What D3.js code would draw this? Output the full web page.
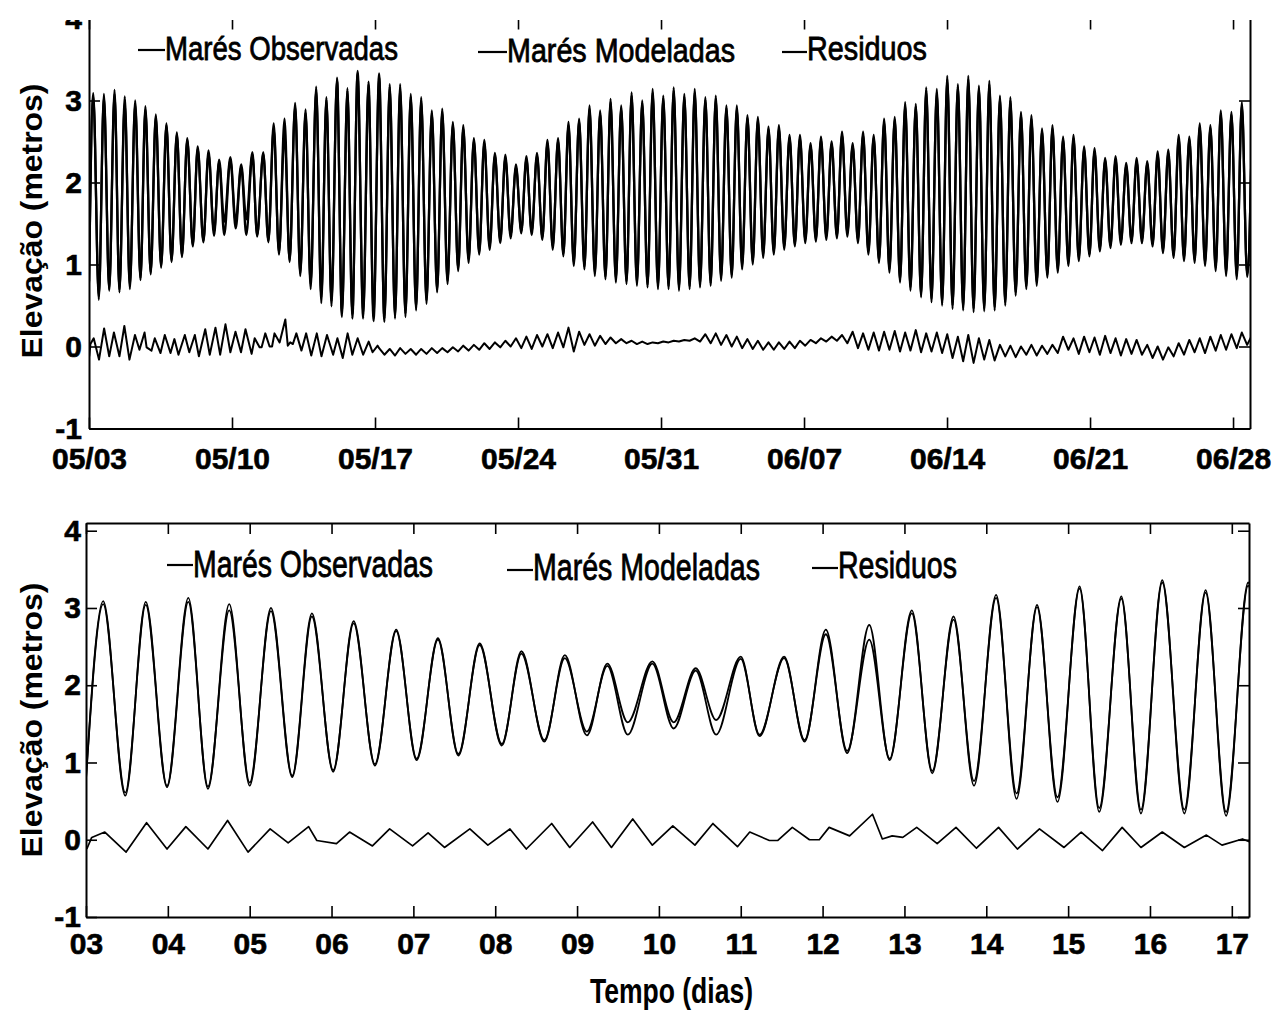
<!DOCTYPE html>
<html>
<head>
<meta charset="utf-8">
<script src="https://cdn.jsdelivr.net/npm/d3@7"></script>
<style>
  body { margin: 0; background: #fff; }
  svg { display: block; }
  text { font-family: "Liberation Sans", Arial, sans-serif; fill: #000; }
</style>
</head>
<body>
<svg id="chart" width="1274" height="1011"></svg>
<script>
// times of high / low water (days of May, 32 = 1 June)
const tideDays = [
  3.00, 3.21, 3.48, 3.73, 3.99, 4.25, 4.49, 4.75, 5.00, 5.26, 5.52, 5.76, 6.02, 6.27, 6.53, 6.79, 7.04,
  7.30, 7.55, 7.81, 8.08, 8.32, 8.60, 8.85, 9.12, 9.37, 9.62, 9.92, 10.18, 10.45, 10.70, 11.00, 11.23,
  11.53, 11.78, 12.04, 12.30, 12.57, 12.82, 13.09, 13.34, 13.60, 13.85, 14.12, 14.37, 14.62, 14.87,
  15.14, 15.38, 15.65, 15.89, 16.15, 16.42, 16.68, 16.93,
  17.20, 17.46, 17.72, 17.98, 18.23, 18.49, 18.75, 19.01, 19.26, 19.52, 19.78, 20.04, 20.29, 20.55, 20.81, 21.07, 21.32, 21.58, 21.84, 22.10,
  22.35, 22.61, 22.87, 23.13, 23.38, 23.64, 23.90, 24.16, 24.41, 24.67, 24.93, 25.19, 25.44, 25.70, 25.96, 26.22, 26.47, 26.73, 26.99, 27.25,
  27.50, 27.76, 28.02, 28.28, 28.53, 28.79, 29.05, 29.31, 29.56, 29.82, 30.08, 30.34, 30.59, 30.85, 31.11, 31.37, 31.62, 31.88, 32.14, 32.40,
  32.65, 32.91, 33.17, 33.43, 33.68, 33.94, 34.20, 34.46, 34.71, 34.97, 35.23, 35.49, 35.74, 36.00, 36.26, 36.52, 36.77, 37.03, 37.29, 37.55,
  37.80, 38.06, 38.32, 38.58, 38.83, 39.09, 39.35, 39.61, 39.86, 40.12, 40.38, 40.64, 40.89, 41.15, 41.41, 41.67, 41.92, 42.18, 42.44, 42.70,
  42.95, 43.21, 43.47, 43.73, 43.98, 44.24, 44.50, 44.76, 45.01, 45.27, 45.53, 45.79, 46.04, 46.30, 46.56, 46.82, 47.07, 47.33, 47.59, 47.85,
  48.10, 48.36, 48.62, 48.88, 49.13, 49.39, 49.65, 49.91, 50.16, 50.42, 50.68, 50.94, 51.19, 51.45, 51.71, 51.97, 52.22, 52.48, 52.74, 53.00,
  53.25, 53.51, 53.77, 54.03, 54.28, 54.54, 54.80, 55.06, 55.31, 55.57, 55.83, 56.09, 56.34, 56.60, 56.86, 57.12, 57.37, 57.63, 57.89, 58.15,
  58.40, 58.66, 58.92, 59.18, 59.43, 59.69, 59.95
];

// observed tide (m)
const obsLevels = [
  0.80, 3.09, 0.57, 3.08, 0.70, 3.13, 0.66, 3.05, 0.70, 3.00, 0.83, 2.93, 0.88, 2.83, 0.96, 2.72, 1.03,
  2.61, 1.09, 2.54, 1.22, 2.44, 1.27, 2.39, 1.35, 2.28, 1.52, 2.31, 1.52, 2.22, 1.55, 2.37, 1.34,
  2.37, 1.27, 2.72, 1.12, 2.78, 1.03, 2.97, 0.86, 2.89, 0.70, 3.17, 0.53, 3.04, 0.49,
  3.28, 0.36, 3.15, 0.34, 3.36, 0.34, 3.23, 0.31,
  3.33, 0.30, 3.20, 0.34, 3.20, 0.36, 3.08, 0.44, 3.04, 0.52, 2.88, 0.66, 2.90, 0.76, 2.74, 0.92, 2.70, 1.02, 2.54, 1.12,
  2.52, 1.18, 2.36, 1.26, 2.34, 1.32, 2.22, 1.38, 2.32, 1.36, 2.36, 1.30, 2.52, 1.18, 2.54, 1.10, 2.74, 0.98, 2.78, 0.94,
  2.94, 0.86, 2.88, 0.82, 3.02, 0.78, 2.94, 0.76, 3.10, 0.74, 3.00, 0.72, 3.14, 0.70, 3.06, 0.70, 3.16, 0.68, 3.08, 0.70,
  3.14, 0.72, 3.04, 0.74, 3.06, 0.80, 2.94, 0.84, 2.94, 0.94, 2.82, 1.00, 2.80, 1.08, 2.68, 1.12, 2.70, 1.18, 2.58, 1.22,
  2.58, 1.26, 2.48, 1.28, 2.56, 1.30, 2.50, 1.32, 2.62, 1.34, 2.48, 1.26, 2.62, 1.12, 2.58, 1.02, 2.78, 0.90, 2.80, 0.78,
  2.98, 0.68, 2.96, 0.60, 3.16, 0.54, 3.14, 0.50, 3.30, 0.46, 3.20, 0.44, 3.30, 0.42, 3.18, 0.43, 3.24, 0.44, 3.06, 0.50,
  3.04, 0.62, 2.86, 0.70, 2.82, 0.74, 2.66, 0.84, 2.70, 0.90, 2.56, 0.98, 2.58, 1.04, 2.44, 1.10, 2.42, 1.16, 2.30, 1.20,
  2.32, 1.24, 2.24, 1.26, 2.30, 1.26, 2.26, 1.22, 2.38, 1.14, 2.40, 1.08, 2.58, 1.04, 2.56, 1.02, 2.72, 0.98, 2.70, 0.92,
  2.88, 0.86, 2.86, 0.82, 2.98, 0.85, 2.95
];

// modelled tide (m)
const modLevels = [
  0.78, 3.05, 0.61, 3.04, 0.68, 3.08, 0.69, 2.97, 0.74, 2.96, 0.81, 2.89, 0.90, 2.80, 0.98, 2.70, 1.05,
  2.59, 1.11, 2.52, 1.24, 2.41, 1.29, 2.35, 1.40, 2.25, 1.36, 2.28, 1.44, 2.19, 1.36, 2.34, 1.36,
  2.35, 1.29, 2.66, 1.15, 2.59, 1.05, 2.93, 0.89, 2.85, 0.76, 3.13, 0.60, 3.01, 0.55,
  3.25, 0.41, 3.12, 0.39, 3.33, 0.39, 3.20, 0.36,
  3.29, 0.34, 3.17, 0.37, 3.15, 0.40, 3.05, 0.47, 3.00, 0.56, 2.85, 0.69, 2.86, 0.80, 2.71, 0.95, 2.66, 1.06, 2.51, 1.15,
  2.48, 1.22, 2.33, 1.29, 2.30, 1.36, 2.19, 1.41, 2.28, 1.40, 2.33, 1.33, 2.48, 1.22, 2.51, 1.13, 2.70, 1.02, 2.75, 0.97,
  2.90, 0.90, 2.85, 0.85, 2.98, 0.82, 2.91, 0.79, 3.06, 0.78, 2.97, 0.75, 3.10, 0.74, 3.03, 0.73, 3.12, 0.72, 3.05, 0.73,
  3.10, 0.76, 3.01, 0.77, 3.02, 0.84, 2.91, 0.87, 2.90, 0.98, 2.79, 1.03, 2.76, 1.12, 2.65, 1.15, 2.66, 1.22, 2.55, 1.25,
  2.54, 1.30, 2.45, 1.31, 2.52, 1.34, 2.47, 1.35, 2.58, 1.38, 2.45, 1.30, 2.58, 1.16, 2.55, 1.05, 2.74, 0.94, 2.77, 0.81,
  2.94, 0.72, 2.93, 0.63, 3.12, 0.58, 3.10, 0.53, 3.26, 0.50, 3.17, 0.47, 3.26, 0.46, 3.15, 0.46, 3.20, 0.48, 3.03, 0.54,
  3.00, 0.66, 2.83, 0.73, 2.78, 0.78, 2.63, 0.87, 2.66, 0.94, 2.53, 1.01, 2.54, 1.08, 2.41, 1.13, 2.38, 1.20, 2.27, 1.23,
  2.28, 1.28, 2.21, 1.29, 2.26, 1.30, 2.23, 1.25, 2.34, 1.18, 2.36, 1.11, 2.54, 1.08, 2.53, 1.05, 2.68, 1.02, 2.67, 0.96,
  2.84, 0.90, 2.83, 0.86, 2.94, 0.88, 2.92
];

// residuals, detailed part (3 - 17 May)
const resDays = [
  3.01, 3.07, 3.23, 3.49, 3.74, 3.99, 4.22, 4.49, 4.73, 4.98, 5.25, 5.47, 5.72, 5.82, 6.06, 6.22,
  6.50, 6.71, 6.99, 7.18, 7.38, 7.69, 7.91, 8.18, 8.38, 8.69, 8.91, 9.19, 9.42, 9.68, 9.92, 10.17,
  10.44, 10.66, 10.96, 11.11, 11.35, 11.45, 11.63, 11.84, 11.96, 12.08, 12.33, 12.61, 12.73, 12.85,
  12.98, 13.15, 13.40, 13.63, 13.88, 14.15, 14.38, 14.65, 14.95, 15.16, 15.42, 15.66, 15.89, 16.15,
  16.42, 16.69, 16.88, 17.13
];
const resLevels = [
  -0.12, 0.03, 0.10, -0.16, 0.22, -0.12, 0.17, -0.12, 0.25, -0.16, 0.14, -0.04, 0.17, -0.01, -0.05, 0.10,
  -0.08, 0.14, -0.08, 0.09, -0.10, 0.14, -0.07, 0.14, -0.12, 0.21, -0.10, 0.23, -0.10, 0.27, -0.07, 0.18,
  -0.07, 0.21, -0.09, 0.10, -0.01, -0.01, 0.16, 0.00, 0.00, 0.16, 0.05, 0.33, 0.01, 0.05,
  0.03, 0.16, -0.05, 0.16, -0.11, 0.16, -0.12, 0.14, -0.10, 0.10, -0.14, 0.16, -0.10, 0.10,
  -0.10, 0.06, -0.07, 0.01
];
// residuals at the tide extremes from 17 May on (same times as tideDays)
const resLateLevels = [
  -0.02, -0.10, -0.03, -0.11, -0.02, -0.09, -0.03, -0.10, -0.03, -0.09, -0.02, -0.08, -0.02, -0.07, -0.01, -0.06, 0.01, -0.05, 0.02, -0.04,
  0.04, -0.03, 0.05, -0.01, 0.07, 0.00, 0.10, -0.02, 0.12, -0.03, 0.14, 0.00, 0.15, -0.02, 0.17, -0.01, 0.23, -0.06, 0.18, 0.02,
  0.15, 0.01, 0.13, 0.03, 0.11, 0.04, 0.09, 0.04, 0.07, 0.03, 0.06, 0.03, 0.05, 0.04, 0.06, 0.05, 0.07, 0.06, 0.08, 0.07,
  0.10, 0.06, 0.15, 0.04, 0.16, 0.02, 0.14, 0.00, 0.12, -0.02, 0.09, -0.03, 0.07, -0.04, 0.05, -0.04, 0.05, -0.03, 0.06, -0.02,
  0.07, 0.01, 0.08, 0.04, 0.10, 0.06, 0.12, 0.07, 0.14, 0.04, 0.18, -0.02, 0.16, -0.04, 0.17, -0.05, 0.18, -0.04, 0.19, -0.06,
  0.17, -0.05, 0.20, -0.07, 0.16, -0.06, 0.17, -0.08, 0.15, -0.14, 0.12, -0.18, 0.14, -0.20, 0.10, -0.16, 0.08, -0.17, 0.02, -0.12,
  0.01, -0.13, 0.00, -0.10, 0.02, -0.11, 0.01, -0.09, 0.02, -0.08, 0.12, -0.04, 0.10, -0.09, 0.12, -0.07, 0.11, -0.10, 0.13, -0.08,
  0.10, -0.11, 0.09, -0.09, 0.08, -0.10, 0.02, -0.14, 0.00, -0.16, -0.01, -0.12, 0.04, -0.10, 0.08, -0.07, 0.10, -0.08, 0.12, -0.05,
  0.14, -0.04, 0.15, -0.02, 0.17, 0.02, 0.15
];

const topTickDays = [3, 10, 17, 24, 31, 38, 45, 52, 59];
const topTickLabels = ["05/03", "05/10", "05/17", "05/24", "05/31", "06/07", "06/14", "06/21", "06/28"];
const zoomTickDays = [3, 4, 5, 6, 7, 8, 9, 10, 11, 12, 13, 14, 15, 16, 17];
const zoomTickLabels = ["03", "04", "05", "06", "07", "08", "09", "10", "11", "12", "13", "14", "15", "16", "17"];
const yTicks = [-1, 0, 1, 2, 3, 4];
const seriesNames = ["Marés Observadas", "Marés Modeladas", "Residuos"];

const lateStart = 55; // first tide extreme after the zoomed window
const obs = d3.zip(tideDays, obsLevels);
const mod = d3.zip(tideDays, modLevels);
const res = d3.zip(resDays, resLevels).concat(d3.zip(tideDays.slice(lateStart), resLateLevels));

const svg = d3.select("#chart");

function panel(o) {
  const g = svg.append("g");
  if (o.cutTop != null) {
    svg.append("clipPath").attr("id", o.id + "-cut")
      .append("rect").attr("x", 0).attr("y", o.cutTop).attr("width", 1274).attr("height", 1011);
    g.attr("clip-path", `url(#${o.id}-cut)`);
  }

  const x = d3.scaleLinear().domain(o.xDomain).range(o.xRange);
  const y = d3.scaleLinear().domain(o.yDomain).range(o.yRange);
  const [x0, x1] = o.xRange, [y0, y1] = o.yRange;

  svg.append("clipPath").attr("id", o.id + "-plot")
    .append("rect").attr("x", x0).attr("y", y1).attr("width", x1 - x0).attr("height", y0 - y1);

  const line = d3.line().x(d => x(d[0])).y(d => y(d[1]));
  const plot = g.append("g").attr("clip-path", `url(#${o.id}-plot)`)
    .attr("fill", "none").attr("stroke", "#000").attr("stroke-linejoin", "round");

  plot.append("path").datum(mod).attr("stroke-width", o.tideWidth)
    .attr("d", line.curve(d3.curveMonotoneX));
  plot.append("path").datum(obs).attr("stroke-width", o.tideWidth)
    .attr("d", line.curve(d3.curveMonotoneX));
  plot.append("path").datum(res).attr("stroke-width", o.resWidth)
    .attr("d", line.curve(d3.curveLinear));

  // axes, MATLAB style: ticks point inwards on all four sides
  const lab = (vals, labels) => (d) => labels[vals.indexOf(d)];
  const fmtY = d => String(d);

  const bx = g.append("g").attr("transform", `translate(0,${y0})`)
    .call(d3.axisBottom(x).tickValues(o.ticks).tickFormat(lab(o.ticks, o.tickLabels))
      .tickSizeInner(-11).tickSizeOuter(0).tickPadding(o.xPad));
  const tx = g.append("g").attr("transform", `translate(0,${y1})`)
    .call(d3.axisTop(x).tickValues(o.ticks).tickFormat("").tickSizeInner(-11).tickSizeOuter(0));
  const ly = g.append("g").attr("transform", `translate(${x0},0)`)
    .call(d3.axisLeft(y).tickValues(yTicks).tickFormat(fmtY)
      .tickSizeInner(-11).tickSizeOuter(0).tickPadding(o.yPad));
  const ry = g.append("g").attr("transform", `translate(${x1},0)`)
    .call(d3.axisRight(y).tickValues(yTicks).tickFormat("").tickSizeInner(-11).tickSizeOuter(0));

  [bx, tx, ly, ry].forEach(a => {
    a.select(".domain").attr("stroke", "#000").attr("stroke-width", 2);
    a.selectAll(".tick line").attr("stroke", "#000").attr("stroke-width", 1.6);
    a.selectAll(".tick text").attr("font-size", 30).attr("font-weight", "bold")
      .attr("font-family", "'Liberation Sans', Arial, sans-serif").attr("fill", "#000")
      .attr("stroke", "#000").attr("stroke-width", 0.6);
  });

  // y label
  g.append("text")
    .attr("transform", `translate(${o.yLabelX},${o.yLabelY}) rotate(-90)`)
    .attr("text-anchor", "middle")
    .attr("font-size", 30).attr("font-weight", "bold")
    .attr("textLength", 275).attr("lengthAdjust", "spacingAndGlyphs")
    .text("Elevação (metros)");

  // legend: MATLAB-like line sample followed by the label
  o.legend.forEach((p, i) => {
    g.append("line").attr("x1", p.lx0).attr("x2", p.tx).attr("y1", p.ly).attr("y2", p.ly)
      .attr("stroke", "#000").attr("stroke-width", 2.2);
    g.append("text").attr("x", p.tx).attr("y", p.ty)
      .attr("font-size", o.legendSize)
      .attr("stroke", "#000").attr("stroke-width", 0.8)
      .attr("textLength", p.w).attr("lengthAdjust", "spacingAndGlyphs")
      .text(seriesNames[i]);
  });
  return g;
}

panel({
  id: "top", cutTop: 20,
  xDomain: [3, 59.83], xRange: [89, 1250],
  yDomain: [-1, 4], yRange: [428.5, 18.5],
  ticks: topTickDays, tickLabels: topTickLabels, xPad: 19, yPad: 7,
  tideWidth: 2.3, resWidth: 2,
  yLabelX: 42, yLabelY: 221,
  legendSize: 34,
  legend: [
    { lx0: 138, tx: 165, ly: 50, ty: 60, w: 233 },
    { lx0: 478, tx: 507, ly: 52, ty: 62, w: 228 },
    { lx0: 782, tx: 807, ly: 52, ty: 60, w: 120 }
  ]
});

const bottom = panel({
  id: "zoom", cutTop: null,
  xDomain: [3, 17.21], xRange: [86, 1249],
  yDomain: [-1, 4.1], yRange: [917, 523],
  ticks: zoomTickDays, tickLabels: zoomTickLabels, xPad: 16, yPad: 5,
  tideWidth: 1.8, resWidth: 1.7,
  yLabelX: 42, yLabelY: 720,
  legendSize: 36,
  legend: [
    { lx0: 167, tx: 193, ly: 565, ty: 577, w: 240 },
    { lx0: 507, tx: 533, ly: 570, ty: 580, w: 227 },
    { lx0: 812, tx: 838, ly: 568, ty: 578, w: 119 }
  ]
});

bottom.append("text")
  .attr("x", 590).attr("y", 1003)
  .attr("font-size", 35).attr("font-weight", "bold")
  .attr("textLength", 163).attr("lengthAdjust", "spacingAndGlyphs")
  .text("Tempo (dias)");
</script>
</body>
</html>
